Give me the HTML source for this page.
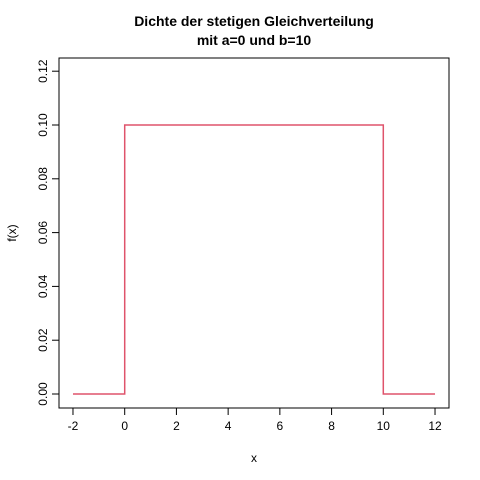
<!DOCTYPE html>
<html><head><meta charset="utf-8"><style>body{margin:0;background:#fff}svg{display:block;font-family:"Liberation Sans",sans-serif}</style></head>
<body>
<svg id="chart" width="480" height="480" xmlns="http://www.w3.org/2000/svg">
<rect x="0" y="0" width="480" height="480" fill="#fff"/>
<text x="254" y="26" text-anchor="middle" font-size="14" font-weight="bold">Dichte der stetigen Gleichverteilung</text>
<text x="254" y="45" text-anchor="middle" font-size="14" font-weight="bold">mit a=0 und b=10</text>
<rect x="59" y="58" width="390" height="350" fill="none" stroke="#000" stroke-width="1"/>
<g id="xaxis"></g>
<g id="yaxis"></g>
<text x="254" y="462" text-anchor="middle" font-size="12">x</text>
<text x="16" y="233" text-anchor="middle" font-size="12" transform="rotate(-90 16 233)">f(x)</text>
<g id="series"></g>
</svg>
<script>
const xTicks=[-2,0,2,4,6,8,10,12];
const yTicks=[0,0.02,0.04,0.06,0.08,0.10,0.12];
const yTickLabels=["0.00","0.02","0.04","0.06","0.08","0.10","0.12"];
const xValues=[-2,0,0,10,10,12];
const yValues=[0,0,0.1,0.1,0,0];
const NS="http://www.w3.org/2000/svg";
function sx(v){return 124.7+(v-0)*25.86;}
function sy(v){return 394-v*2690;}
function mk(t,a,p){const e=document.createElementNS(NS,t);for(const k in a)e.setAttribute(k,a[k]);p.appendChild(e);return e;}
const xa=document.getElementById('xaxis');
mk('line',{x1:sx(xTicks[0]),x2:sx(xTicks[xTicks.length-1]),y1:408,y2:408,stroke:'#000'},xa);
xTicks.forEach(t=>{
 const l=mk('line',{x1:sx(t),x2:sx(t),y1:408,y2:415,stroke:'#000'},xa);
 
 
 const tx=mk('text',{x:sx(t),y:430,'text-anchor':'middle','font-size':12},xa);tx.textContent=t;
 
 
});
const ya=document.getElementById('yaxis');
mk('line',{x1:59,x2:59,y1:sy(yTicks[0]),y2:sy(yTicks[yTicks.length-1]),stroke:'#000'},ya);
yTicks.forEach((t,i)=>{
 const l=mk('line',{x1:52,x2:59,y1:sy(t),y2:sy(t),stroke:'#000'},ya);
 
 
 const y=sy(t);
 const tx=mk('text',{x:47,y:y,'text-anchor':'middle','font-size':12,transform:`rotate(-90 47 ${y})`},ya);tx.textContent=yTickLabels[i];
 
 
});
const s=document.getElementById('series');
const pts=xValues.map((x,i)=>sx(x)+','+sy(yValues[i])).join(' ');
const pl=mk('polyline',{points:pts,fill:'none',stroke:'#DF536B','stroke-width':1.5},s);


</script>
</body></html>
